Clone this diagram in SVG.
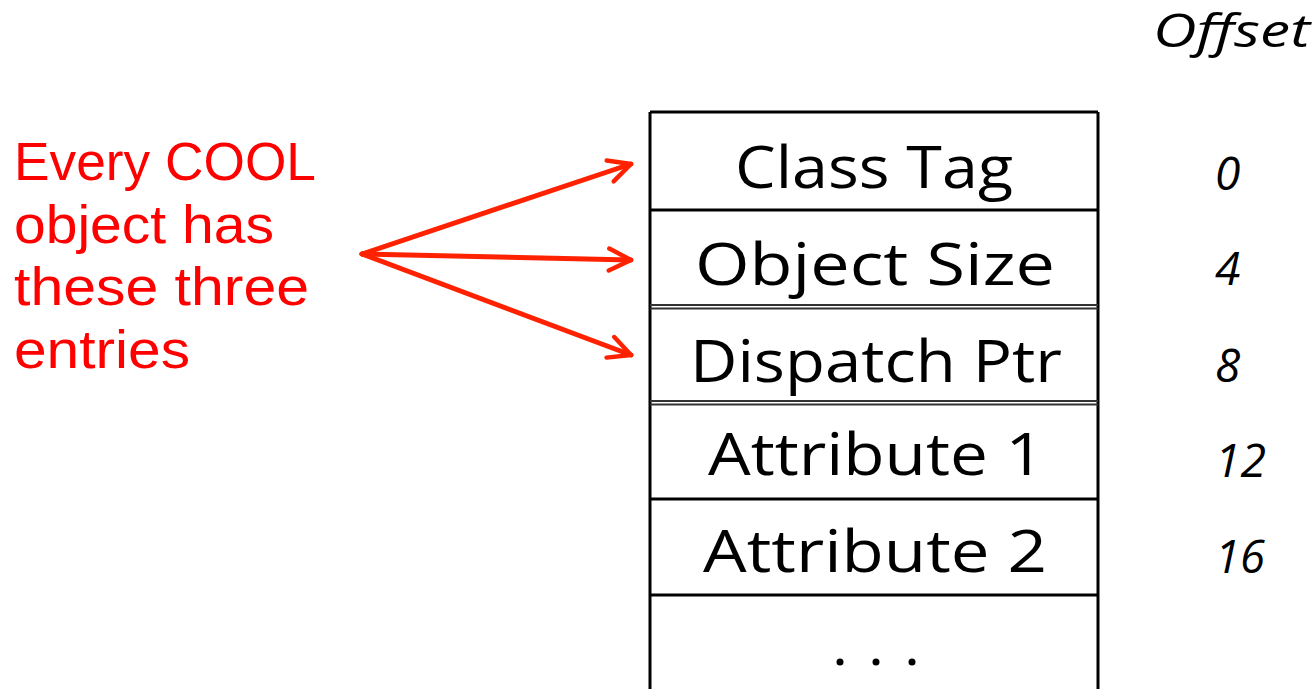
<svg xmlns="http://www.w3.org/2000/svg" width="1316" height="689" viewBox="0 0 1316 689">
<style>
.cell{font-family:"Open Sans","Liberation Sans",sans-serif;font-size:58px;fill:#000;text-anchor:middle}
.note{font-family:"Liberation Sans",Arial,sans-serif;font-size:54px;fill:#ff0000}
.off{font-family:"Open Sans","Liberation Sans",sans-serif;font-size:46px;font-style:italic;fill:#000}
.line{stroke:#000;stroke-width:3;fill:none}
.arrow{stroke:#ff2200;stroke-width:5;fill:none;stroke-linecap:round}
</style>
<defs>
<marker id="ah" viewBox="0 0 10 10" refX="9" refY="5" markerWidth="5.5" markerHeight="5.5" orient="auto" markerUnits="strokeWidth">
<path d="M1,1 L9,5 L1,9" fill="none" stroke="#ff2200" stroke-width="1.6" stroke-linecap="round" stroke-linejoin="round"/>
</marker>
</defs>
<rect width="1316" height="689" fill="#fff"/>
<g id="offset-header"><text class="off" x="1153" y="47" textLength="157" lengthAdjust="spacingAndGlyphs">Offset</text></g>
<g id="layout">
<path class="line" d="M650,112 H1098 M650,112 V689 M1098,112 V689 M650,210 H1098 M650,499 H1098 M650,595 H1098"/>
<path d="M650,305 H1098 M650,308.5 H1098 M650,401 H1098 M650,404.5 H1098" stroke="#333" stroke-width="2" fill="none"/>
</g>
<g id="class-tag"><text class="cell" x="874" y="188" textLength="278" lengthAdjust="spacingAndGlyphs">Class Tag</text></g>
<g id="object-size"><text class="cell" x="875" y="285" textLength="360" lengthAdjust="spacingAndGlyphs">Object Size</text></g>
<g id="dispatch-ptr"><text class="cell" x="876" y="382" textLength="372" lengthAdjust="spacingAndGlyphs">Dispatch Ptr</text></g>
<g id="attribute-1"><text class="cell" x="876" y="475" textLength="336" lengthAdjust="spacingAndGlyphs">Attribute 1</text></g>
<g id="attribute-2"><text class="cell" x="875" y="572" textLength="344" lengthAdjust="spacingAndGlyphs">Attribute 2</text></g>
<g id="ellipsis"><circle cx="840" cy="662" r="3.5"/><circle cx="876" cy="662" r="3.5"/><circle cx="912" cy="662" r="3.5"/></g>
<g id="offsets">
<text class="off" x="1215" y="190">0</text>
<text class="off" x="1215" y="285">4</text>
<text class="off" x="1215" y="382">8</text>
<text class="off" x="1215" y="477" textLength="51" lengthAdjust="spacingAndGlyphs">12</text>
<text class="off" x="1215" y="573" textLength="50" lengthAdjust="spacingAndGlyphs">16</text>
</g>
<g id="note">
<text class="note" x="14" y="180" textLength="302" lengthAdjust="spacingAndGlyphs">Every COOL</text>
<text class="note" x="14" y="243" textLength="260" lengthAdjust="spacingAndGlyphs">object has</text>
<text class="note" x="14" y="305" textLength="295" lengthAdjust="spacingAndGlyphs">these three</text>
<text class="note" x="14" y="368" textLength="176" lengthAdjust="spacingAndGlyphs">entries</text>
</g>
<g id="connectors">
<line class="arrow" x1="362" y1="254" x2="631" y2="164" marker-end="url(#ah)"/>
<line class="arrow" x1="362" y1="254" x2="631" y2="260" marker-end="url(#ah)"/>
<line class="arrow" x1="362" y1="254" x2="631" y2="355" marker-end="url(#ah)"/>
</g>
</svg>
